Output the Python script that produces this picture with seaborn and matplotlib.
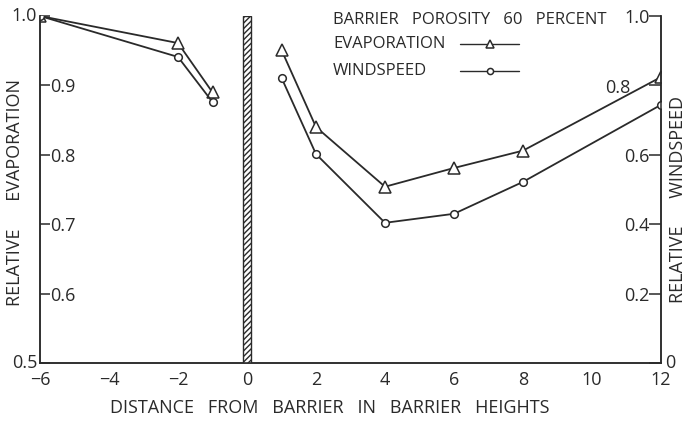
import matplotlib
matplotlib.use("Agg")
import matplotlib.pyplot as plt
from matplotlib.lines import Line2D
import seaborn as sns
import pandas as pd

# ---- data ----
x_left = [-6, -2, -1]
x_right = [1, 2, 4, 6, 8, 12]
evap_left = [1.0, 0.961, 0.890]
evap_right = [0.951, 0.840, 0.754, 0.781, 0.806, 0.912]
wind_left = [1.0, 0.882, 0.752]          # relative windspeed (right axis)
wind_right = [0.822, 0.602, 0.404, 0.430, 0.522, 0.744]
x_ticks = [-6, -4, -2, 0, 2, 4, 6, 8, 10, 12]
x_ticklabels = ["−6", "−4", "−2", "0", "2", "4", "6", "8", "10", "12"]
left_ticks = [0.5, 0.6, 0.7, 0.8, 0.9, 1.0]
right_ticks = [0, 0.2, 0.4, 0.6, 0.8, 1.0]
series_names = ["EVAPORATION", "WINDSPEED"]
legend_title = "BARRIER   POROSITY   60   PERCENT"

sns.set_style("white")
plt.rcParams["font.family"] = ["Open Sans", "DejaVu Sans"]
INK = "#2a2a2a"
FS = 13
LFS = 12

evap = pd.DataFrame({
    "x": x_left + x_right,
    "v": evap_left + evap_right,
    "side": ["L"] * len(x_left) + ["R"] * len(x_right),
})
wind = pd.DataFrame({
    "x": x_left + x_right,
    "v": wind_left + wind_right,
    "side": ["L"] * len(x_left) + ["R"] * len(x_right),
})

fig = plt.figure(figsize=(6.95, 4.21), dpi=100)
ax = fig.add_axes([40 / 695, 58 / 421, 621 / 695, 347 / 421])
ax2 = ax.twinx()

tri_style = dict(marker="^", markersize=8, markerfacecolor="white",
                 markeredgecolor=INK, markeredgewidth=1.1)
circ_style = dict(marker="o", markersize=5.5, markerfacecolor="white",
                  markeredgecolor=INK, markeredgewidth=1.1)

for side in ["L", "R"]:
    sub = evap[evap.side == side]
    sns.lineplot(data=sub, x="x", y="v", ax=ax, color=INK, lw=1.3,
                 estimator=None, sort=False, **tri_style)
    subw = wind[wind.side == side]
    sns.lineplot(data=subw, x="x", y="v", ax=ax2, color=INK, lw=1.3,
                 estimator=None, sort=False, **circ_style)

# barrier
ax.axvspan(-0.13, 0.13, ymin=0, ymax=1, facecolor="white", edgecolor=INK,
           hatch="//////", lw=1.0, zorder=3)

ax.set_xlim(-6, 12)
ax.set_ylim(0.5, 1.0)
ax2.set_ylim(0, 1.0)

for a in (ax, ax2):
    a.spines["top"].set_visible(False)
    for s in ("left", "right", "bottom"):
        a.spines[s].set_color(INK)
        a.spines[s].set_linewidth(1.1)
    a.grid(False)

ax.set_xticks(x_ticks)
ax.set_xticklabels(x_ticklabels, fontsize=FS, color=INK)
ax.tick_params(axis="x", direction="in", length=7, width=1.1, color=INK, pad=6)

ax.set_yticks(left_ticks)
ax.set_yticklabels(["", "0.6", "0.7", "0.8", "0.9", ""], fontsize=FS, color=INK)
ax.tick_params(axis="y", direction="in", length=7, width=1.1, color=INK, pad=-7.5)
for lab in ax.get_yticklabels():
    lab.set_horizontalalignment("left")

ax2.set_yticks(right_ticks)
ax2.set_yticklabels(["", "0.2", "0.4", "0.6", "", "1.0"], fontsize=FS, color=INK)
ax2.tick_params(axis="y", direction="in", length=9, width=1.1, color=INK, pad=-8)
for lab in ax2.get_yticklabels():
    lab.set_horizontalalignment("right")

# labels placed apart from the regular tick labels
ax.annotate("1.0", xy=(0, 1.0), xycoords=("axes fraction", "data"), xytext=(-2, 0),
            textcoords="offset points", ha="right", va="center", fontsize=FS, color=INK)
ax.annotate("0.5", xy=(0, 0.5), xycoords=("axes fraction", "data"), xytext=(-2, 0),
            textcoords="offset points", ha="right", va="center", fontsize=FS, color=INK)
ax2.annotate("0", xy=(1, 0), xycoords=("axes fraction", "data"), xytext=(3, 0),
             textcoords="offset points", ha="left", va="center", fontsize=FS, color=INK)
ax2.annotate("0.8", xy=(1, 0.8), xycoords=("axes fraction", "data"), xytext=(-22, -2),
             textcoords="offset points", ha="right", va="center", fontsize=FS, color=INK)

ax.set_xlabel("DISTANCE   FROM   BARRIER   IN   BARRIER   HEIGHTS", fontsize=13, color=INK)
ax.xaxis.set_label_coords(0.467, -0.105)
ax.set_ylabel("RELATIVE      EVAPORATION", fontsize=13, color=INK)
ax.yaxis.set_label_coords(-0.025, 0.49)
ax2.set_ylabel("RELATIVE      WINDSPEED", fontsize=13, color=INK)
ax2.yaxis.set_label_coords(1.013, 0.47)

# legend block (text left-aligned, keys to the right)
tx = 0.472
ax.text(tx, 0.988, legend_title, transform=ax.transAxes, fontsize=LFS, color=INK,
        ha="left", va="center")
for name, yy, style in [(series_names[0], 0.919, tri_style),
                        (series_names[1], 0.841, circ_style)]:
    ax.text(tx, yy, name, transform=ax.transAxes, fontsize=LFS, color=INK,
            ha="left", va="center")
    key_style = dict(style)
    key_style["markersize"] = style["markersize"] * 0.8
    ax.add_line(Line2D([0.676, 0.724, 0.771], [yy, yy, yy], transform=ax.transAxes,
                       color=INK, lw=1.0, markevery=[1], clip_on=False, **key_style))

fig.savefig("out.png", dpi=100, facecolor="white")
